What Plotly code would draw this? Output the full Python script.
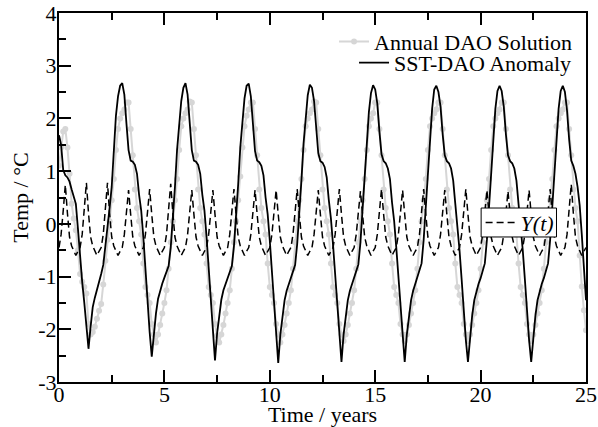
import numpy as np
import plotly.graph_objects as go

# time grid (years), 0.1-year sampling
time_years = [round(0.1 * i, 1) for i in range(251)]

# SST-DAO Anomaly (black solid), one row per year
sst_dao_anomaly = [
    1.68, 1.50, 1.02, 0.92, 0.88, 0.80, 0.65, 0.52, 0.38, -0.10,
    -0.70, -1.10, -1.50, -1.95, -2.37, -1.95, -1.58, -1.40, -1.26, -1.12,
    -0.95, -0.78, -0.45, -0.10, 0.30, 0.70, 1.50, 2.05, 2.42, 2.62,
    2.67, 2.45, 1.90, 1.40, 1.20, 1.18, 1.12, 0.95, 0.55, 0.25,
    -0.25, -0.85, -1.55, -2.05, -2.52, -2.05, -1.70, -1.42, -1.25, -1.13,
    -1.02, -0.92, -0.80, -0.45, 0.10, 0.70, 1.40, 1.95, 2.33, 2.58,
    2.67, 2.45, 1.90, 1.40, 1.20, 1.18, 1.12, 0.95, 0.55, 0.25,
    -0.25, -0.85, -1.55, -2.08, -2.59, -2.08, -1.72, -1.44, -1.26, -1.14,
    -1.03, -0.92, -0.80, -0.42, 0.12, 0.75, 1.45, 2.00, 2.38, 2.62,
    2.66, 2.42, 1.88, 1.38, 1.20, 1.17, 1.10, 0.92, 0.50, 0.18,
    -0.32, -0.90, -1.60, -2.12, -2.64, -2.10, -1.74, -1.45, -1.27, -1.14,
    -1.03, -0.92, -0.78, -0.38, 0.18, 0.82, 1.52, 2.07, 2.44, 2.64,
    2.58, 2.33, 1.80, 1.34, 1.19, 1.16, 1.08, 0.88, 0.45, 0.10,
    -0.40, -0.95, -1.65, -2.15, -2.62, -2.10, -1.74, -1.45, -1.27, -1.14,
    -1.03, -0.91, -0.77, -0.35, 0.25, 0.90, 1.60, 2.12, 2.48, 2.63,
    2.55, 2.28, 1.75, 1.32, 1.19, 1.15, 1.05, 0.85, 0.40, 0.05,
    -0.45, -1.00, -1.70, -2.20, -2.62, -2.10, -1.74, -1.45, -1.27, -1.14,
    -1.03, -0.90, -0.75, -0.30, 0.30, 0.95, 1.65, 2.18, 2.55, 2.62,
    2.50, 2.22, 1.70, 1.30, 1.19, 1.15, 1.05, 0.82, 0.38, 0.00,
    -0.50, -1.05, -1.75, -2.20, -2.62, -2.10, -1.74, -1.45, -1.27, -1.14,
    -1.03, -0.90, -0.75, -0.30, 0.30, 0.95, 1.65, 2.18, 2.52, 2.62,
    2.52, 2.22, 1.70, 1.30, 1.19, 1.15, 1.05, 0.82, 0.38, 0.00,
    -0.50, -1.05, -1.75, -2.20, -2.62, -2.10, -1.74, -1.45, -1.27, -1.14,
    -1.03, -0.90, -0.75, -0.30, 0.30, 0.95, 1.65, 2.18, 2.52, 2.62,
    2.50, 2.15, 1.60, 1.20, 1.10, 0.95, 0.70, 0.35, -0.20, -0.85,
    -1.45,
]

# Annual DAO Solution (light grey, dots)
annual_dao_solution = [
    1.10, 1.45, 1.75, 1.80, 1.45, 0.95, 0.38, 0.10, -0.12, -0.50,
    -0.95, -1.10, -1.20, -1.32, -1.90, -2.10, -2.05, -1.95, -1.80, -1.65,
    -1.52, -1.15, -0.70, -0.30, 0.05, 0.45, 0.85, 1.40, 1.80, 2.00,
    2.10, 2.17, 2.30, 2.30, 1.80, 1.30, 0.65, 0.30, 0.05, -0.20,
    -0.75, -1.20, -1.35, -1.50, -1.90, -2.10, -2.25, -2.10, -1.92, -1.70,
    -1.50, -1.26, -0.85, -0.35, 0.05, 0.45, 0.85, 1.40, 1.85, 2.00,
    2.10, 2.17, 2.32, 2.30, 1.80, 1.30, 0.65, 0.30, 0.05, -0.20,
    -0.75, -1.20, -1.35, -1.50, -1.90, -2.12, -2.25, -2.10, -1.92, -1.70,
    -1.50, -1.26, -0.85, -0.35, 0.05, 0.45, 0.90, 1.45, 1.85, 2.05,
    2.17, 2.30, 2.30, 1.80, 1.30, 0.65, 0.30, 0.05, -0.20, -0.75,
    -1.20, -1.35, -1.50, -1.90, -2.10, -2.25, -2.10, -1.92, -1.70, -1.50,
    -1.26, -0.85, -0.35, 0.05, 0.45, 0.85, 1.40, 1.85, 2.00, 2.10,
    2.17, 2.32, 2.30, 1.80, 1.30, 0.65, 0.30, 0.05, -0.20, -0.75,
    -1.20, -1.35, -1.50, -1.90, -2.10, -2.22, -2.10, -1.92, -1.70, -1.50,
    -1.26, -0.85, -0.35, 0.05, 0.45, 0.85, 1.40, 1.85, 2.00, 2.10,
    2.30, 2.30, 1.80, 1.30, 0.65, 0.30, 0.05, -0.20, -0.75, -1.20,
    -1.35, -1.50, -1.90, -2.10, -2.22, -2.10, -1.92, -1.70, -1.50, -1.26,
    -0.85, -0.35, 0.05, 0.45, 0.85, 1.40, 1.85, 2.00, 2.10, 2.17,
    2.30, 2.30, 1.80, 1.30, 0.65, 0.30, 0.05, -0.20, -0.75, -1.20,
    -1.35, -1.50, -1.90, -2.10, -2.22, -2.10, -1.92, -1.70, -1.50, -1.26,
    -0.85, -0.35, 0.05, 0.45, 0.85, 1.40, 1.85, 2.00, 2.10, 2.17,
    2.30, 2.30, 1.80, 1.30, 0.65, 0.30, 0.05, -0.20, -0.75, -1.20,
    -1.35, -1.50, -1.90, -2.10, -2.22, -2.10, -1.92, -1.70, -1.50, -1.26,
    -0.85, -0.35, 0.05, 0.45, 0.85, 1.40, 1.85, 2.00, 2.10, 2.17,
    2.30, 2.30, 1.80, 1.30, 0.65, 0.30, 0.05, -0.60, -1.19, -1.64,
    -2.02,
]

# Y(t) (black dashed)
y_t = [
    -0.45, -0.20, 0.25, 0.74, 0.20, -0.25, -0.42, -0.52, -0.60, -0.52,
    -0.45, -0.20, 0.25, 0.78, 0.20, -0.25, -0.42, -0.52, -0.60, -0.52,
    -0.45, -0.20, 0.25, 0.78, 0.20, -0.25, -0.42, -0.52, -0.60, -0.52,
    -0.45, -0.20, 0.22, 0.64, 0.18, -0.25, -0.42, -0.52, -0.60, -0.52,
    -0.45, -0.20, 0.22, 0.66, 0.18, -0.25, -0.42, -0.52, -0.60, -0.52,
    -0.45, -0.20, 0.25, 0.76, 0.20, -0.25, -0.42, -0.52, -0.60, -0.52,
    -0.45, -0.20, 0.22, 0.64, 0.18, -0.25, -0.42, -0.52, -0.60, -0.52,
    -0.45, -0.20, 0.22, 0.64, 0.18, -0.25, -0.42, -0.52, -0.60, -0.52,
    -0.45, -0.20, 0.22, 0.66, 0.18, -0.25, -0.42, -0.52, -0.60, -0.52,
    -0.45, -0.20, 0.22, 0.64, 0.18, -0.25, -0.42, -0.52, -0.60, -0.52,
    -0.45, -0.20, 0.22, 0.64, 0.18, -0.25, -0.42, -0.52, -0.60, -0.52,
    -0.45, -0.20, 0.22, 0.66, 0.18, -0.25, -0.42, -0.52, -0.60, -0.52,
    -0.45, -0.20, 0.22, 0.64, 0.18, -0.25, -0.42, -0.52, -0.60, -0.52,
    -0.45, -0.20, 0.22, 0.66, 0.18, -0.25, -0.42, -0.52, -0.60, -0.52,
    -0.45, -0.20, 0.22, 0.62, 0.18, -0.25, -0.42, -0.52, -0.60, -0.52,
    -0.45, -0.20, 0.22, 0.66, 0.18, -0.25, -0.42, -0.52, -0.60, -0.52,
    -0.45, -0.20, 0.22, 0.64, 0.18, -0.25, -0.42, -0.52, -0.60, -0.52,
    -0.45, -0.20, 0.22, 0.66, 0.18, -0.25, -0.42, -0.52, -0.60, -0.52,
    -0.45, -0.20, 0.22, 0.64, 0.18, -0.25, -0.42, -0.52, -0.60, -0.52,
    -0.45, -0.20, 0.22, 0.66, 0.18, -0.25, -0.42, -0.52, -0.60, -0.52,
    -0.45, -0.20, 0.22, 0.64, 0.18, -0.25, -0.42, -0.52, -0.60, -0.52,
    -0.45, -0.20, 0.22, 0.62, 0.18, -0.25, -0.42, -0.52, -0.60, -0.52,
    -0.45, -0.20, 0.22, 0.64, 0.18, -0.25, -0.42, -0.52, -0.60, -0.52,
    -0.45, -0.20, 0.22, 0.66, 0.18, -0.25, -0.42, -0.52, -0.60, -0.52,
    -0.45, -0.20, 0.25, 0.75, 0.20, -0.25, -0.42, -0.52, -0.60, -0.52,
    -0.45,
]

x_ticks = [0, 5, 10, 15, 20, 25]
y_ticks = [-3, -2, -1, 0, 1, 2, 3, 4]
y_tick_labels = ["-3", "-2", "-1", "0", "1", "2", "3", "4"]

FONT = "Liberation Serif"

fig = go.Figure()
fig.add_trace(go.Scatter(
    x=time_years, y=annual_dao_solution, mode="lines+markers",
    name="Annual DAO Solution", showlegend=True,
    line=dict(color="#d6d6d6", width=2),
    marker=dict(color="#d6d6d6", size=6),
    legend="legend",
))
fig.add_trace(go.Scatter(
    x=time_years, y=sst_dao_anomaly, mode="lines",
    name="SST-DAO Anomaly", showlegend=True,
    line=dict(color="black", width=1.8),
    legend="legend3",
))
fig.add_trace(go.Scatter(
    x=time_years, y=y_t, mode="lines",
    name="<i>Y(t)</i>", showlegend=True,
    line=dict(color="black", width=1.5, dash="7px,4px"),
    legend="legend2",
))

leg_font = dict(family=FONT, size=22, color="black")

fig.update_layout(
    width=598, height=427,
    showlegend=True,
    margin=dict(l=59, r=12, t=13, b=45),
    paper_bgcolor="white", plot_bgcolor="white",
    font=dict(family=FONT, color="black", size=22),
    xaxis=dict(
        range=[0, 25], tickvals=x_ticks, automargin=False,
        ticks="inside", ticklen=12, tickwidth=1.5, tickcolor="black",
        showline=True, linecolor="black", linewidth=2, mirror="ticks",
        showgrid=False, zeroline=False, ticklabelstandoff=-8,
        tickfont=dict(family=FONT, size=22),
        title=dict(text="Time / years", font=dict(family=FONT, size=22), standoff=5),
        minor=dict(tickvals=[2.5, 7.5, 12.5, 17.5, 22.5], ticks="inside",
                   ticklen=7, tickwidth=1.5, tickcolor="black", showgrid=False),
    ),
    yaxis=dict(
        range=[-3, 4], tickvals=y_ticks, ticktext=y_tick_labels, automargin=False,
        ticks="inside", ticklen=12, tickwidth=1.5, tickcolor="black",
        showline=True, linecolor="black", linewidth=2, mirror=True,
        showgrid=False, zeroline=False, ticklabelstandoff=-4,
        tickfont=dict(family=FONT, size=22),
        title=dict(text="Temp / °C", font=dict(family=FONT, size=22), standoff=4),
        minor=dict(dtick=0.5, ticks="inside", ticklen=7, tickwidth=1.5,
                   tickcolor="black", showgrid=False),
    ),
    legend=dict(
        x=0.983, xanchor="right", y=0.922, yanchor="middle",
        bgcolor="rgba(0,0,0,0)", borderwidth=0, visible=True,
        font=leg_font, itemwidth=30,
    ),
    legend3=dict(
        x=0.983, xanchor="right", y=0.865, yanchor="middle",
        bgcolor="rgba(0,0,0,0)", borderwidth=0, visible=True,
        font=leg_font, itemwidth=30,
    ),
    legend2=dict(
        x=0.80, xanchor="left", y=0.432, yanchor="middle",
        bgcolor="rgba(0,0,0,0)", borderwidth=0, visible=True,
        font=leg_font, itemwidth=30,
    ),
    shapes=[dict(
        type="rect", xref="paper", yref="paper",
        x0=0.801, x1=0.944, y0=0.393, y1=0.4715,
        fillcolor="white", line=dict(color="black", width=1), layer="above",
    )],
)

fig.write_html("out.html", config={"displayModeBar": False},
               post_script="document.body.style.margin='0';")
